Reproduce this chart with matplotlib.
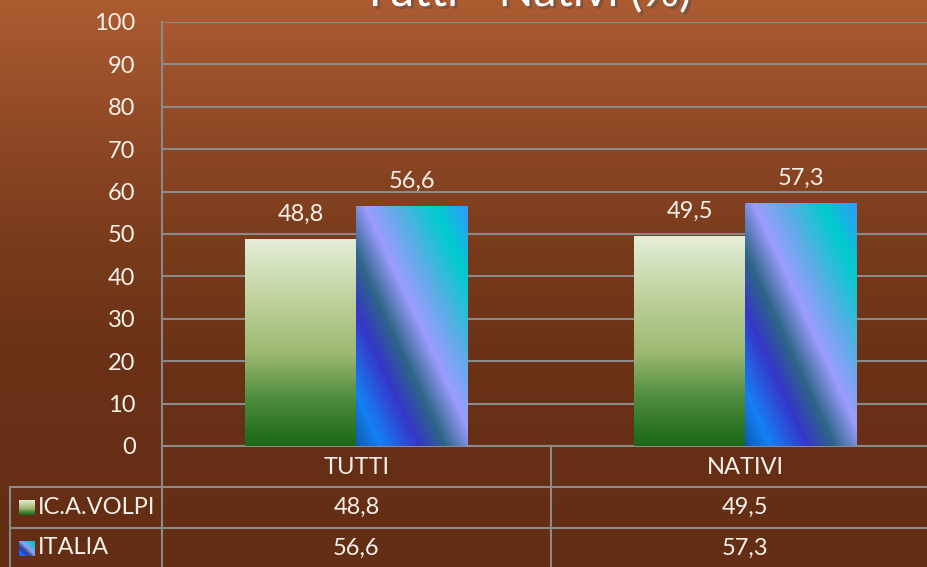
import numpy as np
import matplotlib
matplotlib.use("Agg")
import matplotlib.pyplot as plt
import matplotlib.transforms as mtransforms
import matplotlib.patheffects as pe
from matplotlib.colors import LinearSegmentedColormap
from matplotlib.lines import Line2D

categories = ["TUTTI", "NATIVI"]
series_names = ["IC.A.VOLPI", "ITALIA"]
volpi = [48.8, 49.5]
italia = [56.6, 57.3]
yticks = list(range(0, 101, 10))
title = "Tutti - Nativi (%)"

plt.rcParams["font.family"] = ["Lato", "DejaVu Sans"]

W, H = 928, 567
txt = "#F4F1EA"
grid_col = "#8A8A8A"
fs = 17

bg_cmap = LinearSegmentedColormap.from_list(
    "bg", [(0, "#AD5C31"), (0.2, "#934B27"), (0.45, "#773A1B"),
           (0.65, "#6A3117"), (1, "#632E14")])
green_cmap = LinearSegmentedColormap.from_list(
    "green", [(0, "#1B6817"), (0.22, "#4C8B3C"), (0.45, "#9EB972"),
              (0.7, "#BDD09A"), (1, "#E4EED8")])
blue_cmap = LinearSegmentedColormap.from_list(
    "blue", [(0, "#0B5CB2"), (0.11, "#1580F5"), (0.28, "#3636C8"),
             (0.40, "#2E6687"), (0.54, "#9C9CFF"), (0.68, "#5AAEE6"),
             (0.85, "#00CCCC"), (1, "#3399FF")])

u, v = np.meshgrid(np.linspace(0, 1, 200), np.linspace(0, 1, 200))
grad = {"green": v, "blue": (u + v) / 2}
cmaps = {"green": green_cmap, "blue": blue_cmap}

fig = plt.figure(figsize=(W / 100, H / 100), dpi=100)

# background gradient
bg = fig.add_axes([0, 0, 1, 1], zorder=0)
bg.imshow(np.linspace(0, 1, 256).reshape(-1, 1), cmap=bg_cmap, aspect="auto",
          extent=[0, 1, 0, 1])
bg.axis("off")


def fy(py):
    return (H - py) / H


def fx(px):
    return px / W


ax = fig.add_axes([fx(162), fy(446), 778 / W, 424 / H], zorder=1)
ax.patch.set_alpha(0)

x = np.arange(len(categories))
bw = 0.286
bars_g = ax.bar(x - bw / 2, volpi, bw, color="none", edgecolor="none", zorder=3)
bars_b = ax.bar(x + bw / 2, italia, bw, color="none", edgecolor="none", zorder=3)

for bars, key in [(bars_g, "green"), (bars_b, "blue")]:
    for p in bars:
        x0, w, h = p.get_x(), p.get_width(), p.get_height()
        ax.imshow(grad[key], cmap=cmaps[key], origin="lower", aspect="auto",
                  extent=[x0, x0 + w, 0, h], zorder=3, interpolation="bilinear")

for bars, vals in [(bars_g, volpi), (bars_b, italia)]:
    for p, val in zip(bars, vals):
        ax.annotate(f"{val:.1f}".replace(".", ","),
                    (p.get_x() + p.get_width() / 2, val),
                    xytext=(0, 18), textcoords="offset points",
                    ha="center", va="center", color=txt, fontsize=fs)

ax.set_xlim(-0.5, 1.5)
ax.set_ylim(0, 100)
ax.set_yticks(yticks)
ax.set_xticks([])
ax.yaxis.grid(True, color=grid_col, lw=1.5)
ax.set_axisbelow(True)
for s in ["top", "right"]:
    ax.spines[s].set_visible(False)
for s in ["left", "bottom"]:
    ax.spines[s].set_color(grid_col)
    ax.spines[s].set_linewidth(1.5)
ax.tick_params(axis="y", length=0, pad=19, labelsize=fs, labelcolor=txt)

# title (mostly above the visible area, as in the original slide)
fig.text(fx(527), fy(6), title, ha="center", va="baseline", fontsize=33,
         color="white",
         path_effects=[pe.SimplePatchShadow(offset=(2, -2), alpha=0.5), pe.Normal()])

# data table
bt = mtransforms.blended_transform_factory(ax.transData, fig.transFigure)
lw = 1.5
for py in [487, 528]:
    fig.add_artist(Line2D([fx(10), fx(940)], [fy(py), fy(py)], color=grid_col, lw=lw,
                          transform=fig.transFigure, zorder=2))
fig.add_artist(Line2D([fx(10), fx(10)], [fy(487), fy(570)], color=grid_col, lw=lw,
                      transform=fig.transFigure, zorder=2))
fig.add_artist(Line2D([fx(162), fx(162)], [fy(446), fy(570)], color=grid_col, lw=lw,
                      transform=fig.transFigure, zorder=2))
for xb in x[:-1] + 0.5:
    fig.add_artist(Line2D([xb, xb], [fy(446), fy(570)], color=grid_col, lw=lw,
                          transform=bt, zorder=2))

for xi, cat in zip(x, categories):
    fig.text(xi, fy(467), cat, transform=bt, ha="center", va="center",
             color=txt, fontsize=fs)
row_y = [507, 548]
for ry, vals in zip(row_y, [volpi, italia]):
    for xi, val in zip(x, vals):
        fig.text(xi, fy(ry), f"{val:.1f}".replace(".", ","), transform=bt,
                 ha="center", va="center", color=txt, fontsize=fs)

for ry, name, key in zip(row_y, series_names, ["green", "blue"]):
    sw = fig.add_axes([fx(19), fy(ry + 8), 15 / W, 15 / H], zorder=3)
    sw.imshow(grad[key], cmap=cmaps[key], origin="lower", aspect="auto")
    sw.axis("off")
    fig.text(fx(38), fy(ry), name, ha="left", va="center", color=txt, fontsize=fs)

fig.savefig("out.png", dpi=100)
